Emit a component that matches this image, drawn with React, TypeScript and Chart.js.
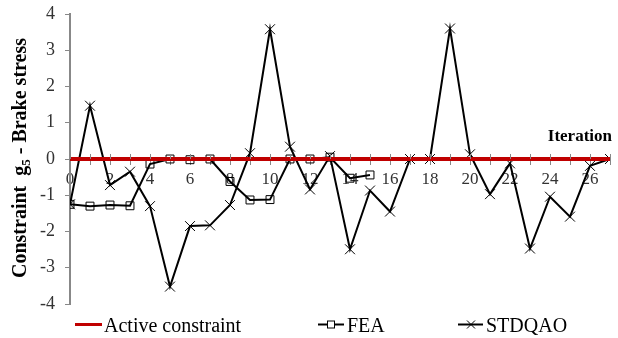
import React, { useEffect, useRef } from "react";
import { Chart, registerables } from "chart.js";

Chart.register(...registerables);

const iterations = Array.from({ length: 28 }, (_, i) => i);
const feaX = [0, 1, 2, 3, 4, 5, 6, 7, 8, 9, 10, 11, 12, 13, 14, 15];
const feaValues = [-1.25, -1.3, -1.27, -1.29, -0.14, 0, -0.02, 0, -0.62, -1.13, -1.12, 0, 0, 0.05, -0.53, -0.44];
const stdqaoValues = [
  -1.25, 1.47, -0.72, -0.35, -1.3, -3.52, -1.85, -1.83, -1.27, 0.16, 3.58, 0.34, -0.84, 0.08,
  -2.49, -0.87, -1.45, 0, 0, 3.6, 0.13, -0.97, -0.12, -2.47, -1.04, -1.59, -0.19, 0,
];
const activeX = [0, 27];
const activeValues = [0, 0];
const yTicks = [-4, -3, -2, -1, 0, 1, 2, 3, 4];
const seriesNames = ["Active constraint", "FEA", "STDQAO"];
const yTitleParts = ["Constraint  g", "5", " - Brake stress"];
const xTitle = "Iteration";

const SERIF = "'Liberation Serif', 'Times New Roman', serif";

const annotations = {
  id: "annotations",
  afterDatasetsDraw(chart: any) {
    const ctx = chart.ctx;
    const xs = chart.scales.x;
    const ys = chart.scales.y;
    const y0 = ys.getPixelForValue(0);
    ctx.save();
    ctx.strokeStyle = "#888888";
    ctx.lineWidth = 1;
    for (const v of iterations) {
      const px = Math.round(xs.getPixelForValue(v)) + 0.5;
      ctx.beginPath();
      ctx.moveTo(px, y0 - 5);
      ctx.lineTo(px, y0);
      ctx.stroke();
    }
    ctx.fillStyle = "#000";
    ctx.font = "bold 17px " + SERIF;
    ctx.textAlign = "right";
    ctx.textBaseline = "alphabetic";
    ctx.fillText(xTitle, 612, 141);
    ctx.restore();
  },
  afterDraw(chart: any) {
    const ctx = chart.ctx;
    ctx.save();
    const big = "bold 20px " + SERIF;
    const small = "bold 13px " + SERIF;
    ctx.font = big;
    const w1 = ctx.measureText(yTitleParts[0]).width;
    const w3 = ctx.measureText(yTitleParts[2]).width;
    ctx.font = small;
    const w2 = ctx.measureText(yTitleParts[1]).width;
    const total = w1 + w2 + w3;
    ctx.translate(26, 158);
    ctx.rotate(-Math.PI / 2);
    ctx.fillStyle = "#000";
    ctx.textBaseline = "alphabetic";
    ctx.textAlign = "left";
    let x = -total / 2;
    ctx.font = big;
    ctx.fillText(yTitleParts[0], x, 0);
    x += w1;
    ctx.font = small;
    ctx.fillText(yTitleParts[1], x, 4);
    x += w2;
    ctx.font = big;
    ctx.fillText(yTitleParts[2], x, 0);
    ctx.restore();

    ctx.save();
    const ly = 324.5;
    ctx.font = "20px " + SERIF;
    ctx.fillStyle = "#000";
    ctx.textBaseline = "alphabetic";
    ctx.textAlign = "left";
    ctx.strokeStyle = "#C00000";
    ctx.lineWidth = 3;
    ctx.beginPath();
    ctx.moveTo(75, ly);
    ctx.lineTo(102, ly);
    ctx.stroke();
    ctx.fillText(seriesNames[0], 104, 332);
    ctx.strokeStyle = "#000";
    ctx.lineWidth = 2;
    ctx.beginPath();
    ctx.moveTo(318, ly);
    ctx.lineTo(344, ly);
    ctx.stroke();
    ctx.fillStyle = "#fff";
    ctx.fillRect(327.5, ly - 3.5, 7, 7);
    ctx.lineWidth = 1;
    ctx.strokeRect(327.5, ly - 3.5, 7, 7);
    ctx.fillStyle = "#000";
    ctx.fillText(seriesNames[1], 347, 332);
    ctx.lineWidth = 2;
    ctx.beginPath();
    ctx.moveTo(458, ly);
    ctx.lineTo(483, ly);
    ctx.stroke();
    ctx.lineWidth = 1;
    ctx.beginPath();
    ctx.moveTo(467, ly - 4);
    ctx.lineTo(475, ly + 4);
    ctx.moveTo(475, ly - 4);
    ctx.lineTo(467, ly + 4);
    ctx.stroke();
    ctx.fillText(seriesNames[2], 486, 332);
    ctx.restore();
  },
};

export default function App() {
  const ref = useRef<HTMLCanvasElement | null>(null);
  useEffect(() => {
    if (!ref.current) return;
    const chart = new Chart(ref.current, {
      type: "line",
      data: {
        datasets: [
          {
            label: seriesNames[0],
            data: activeX.map((x, i) => ({ x, y: activeValues[i] })),
            borderColor: "#C00000",
            borderWidth: 4,
            pointRadius: 0,
          },
          {
            label: seriesNames[1],
            data: feaX.map((x, i) => ({ x, y: feaValues[i] })),
            borderColor: "#000",
            borderWidth: 2,
            pointStyle: "rect",
            pointRadius: 5.6,
            pointBorderWidth: 1,
            pointBorderColor: "#000",
            pointBackgroundColor: "rgba(255,255,255,0)",
          },
          {
            label: seriesNames[2],
            data: iterations.map((x, i) => ({ x, y: stdqaoValues[i] })),
            borderColor: "#000",
            borderWidth: 2,
            pointStyle: "crossRot",
            pointRadius: 7,
            pointBorderWidth: 1,
            pointBorderColor: "#000",
          },
        ],
      },
      options: {
        animation: false,
        responsive: false,
        maintainAspectRatio: false,
        layout: { padding: { top: 14, right: 4, bottom: 34, left: 0 } },
        plugins: { legend: { display: false }, tooltip: { enabled: false } },
        elements: { line: { tension: 0 } },
        scales: {
          x: {
            type: "linear",
            position: { y: 0 } as any,
            min: 0,
            max: 27,
            afterBuildTicks: (scale: any) => {
              scale.ticks = iterations.map((v) => ({ value: v }));
            },
            afterFit: (scale: any) => {
              scale.paddingLeft = 0;
              scale.paddingRight = 0;
            },
            ticks: {
              autoSkip: false,
              maxRotation: 0,
              padding: 5,
              color: "#333",
              font: { family: SERIF, size: 17 },
              callback: (v: any) => (Number(v) % 2 === 0 ? String(v) : ""),
            },
            grid: { drawOnChartArea: false, tickLength: 5, color: "#888888" },
            border: { color: "#888888", width: 1 },
          },
          y: {
            min: -4,
            max: 4,
            afterBuildTicks: (scale: any) => {
              scale.ticks = yTicks.map((v) => ({ value: v }));
            },
            afterFit: (scale: any) => {
              scale.width = 70;
              scale.paddingTop = 0;
              scale.paddingBottom = 0;
            },
            ticks: {
              padding: 10,
              color: "#333",
              font: { family: SERIF, size: 18 },
            },
            grid: { drawOnChartArea: false, tickLength: 5, color: "#888888" },
            border: { color: "#888888", width: 2 },
          },
        },
      },
      plugins: [annotations],
    });
    return () => chart.destroy();
  }, []);
  return (
    <div style={{ position: "absolute", left: 0, top: 0, width: 618, height: 338, background: "#fff" }}>
      <canvas ref={ref} width={618} height={338} style={{ width: 618, height: 338 }} />
    </div>
  );
}
